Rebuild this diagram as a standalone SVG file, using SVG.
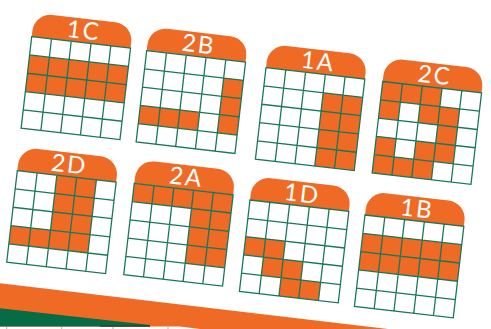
<svg xmlns="http://www.w3.org/2000/svg" xmlns:xlink="http://www.w3.org/1999/xlink" width="491" height="329" viewBox="0 0 491 329">
<style>
.tab{fill:#ef6a25}
.on{fill:#ef6a25}
.bg{fill:#ffffff}
.ln{fill:none;stroke:#17785a;stroke-width:1.3}
.lbl{font-family:Lato,"Open Sans","Liberation Sans",sans-serif;font-size:24px;fill:#ffffff;text-anchor:middle;letter-spacing:2px}
</style>
<defs>
<path id="tabshape" class="tab" d="M0,0 V-6 A18,18 0 0 1 18,-24 H81.5 A18,18 0 0 1 99.5,-6 V0 Z"/>
<rect id="bgrect" class="bg" x="0" y="0" width="99.5" height="92"/>
<path id="lines" class="ln" d="M0,0 H99.5 V92 H0 Z M19.9,0 V92 M39.8,0 V92 M59.7,0 V92 M79.6,0 V92 M0,18.4 H99.5 M0,36.8 H99.5 M0,55.2 H99.5 M0,73.6 H99.5"/>
</defs>
<rect width="491" height="329" fill="#ffffff"/>
<g id="bottom-band">
<polygon points="0,283.3 388,329 200,329 180,326.6 0,326.6" fill="#ef6a25"/>
<polygon points="0,308.3 150,325 150,326.6 0,326.6" fill="#076b45"/>
<line x1="100" y1="326.2" x2="150" y2="326.2" stroke="#222" stroke-width="0.8"/>
<g stroke="#999" stroke-width="0.8">
<line x1="6.7" y1="327" x2="6.7" y2="329"/>
<line x1="61.7" y1="327" x2="61.7" y2="329"/>
<line x1="113" y1="327" x2="113" y2="329"/>
<line x1="168" y1="327" x2="168" y2="329"/>
</g>
</g>
<g id="card-1C" transform="translate(31.7,36.7) rotate(6.6)">
<use xlink:href="#tabshape"/><text class="lbl" x="51" y="-4">1C</text>
<use xlink:href="#bgrect"/>
<rect class="on" x="0" y="18.4" width="99.5" height="36.8"/>
<use xlink:href="#lines"/>
</g>
<g id="card-2B" transform="translate(146.7,50.6) rotate(6.6)">
<use xlink:href="#tabshape"/><text class="lbl" x="51" y="-4">2B</text>
<use xlink:href="#bgrect"/>
<rect class="on" x="79.6" y="18.4" width="19.9" height="55.2"/>
<rect class="on" x="0" y="55.2" width="59.7" height="18.4"/>
<use xlink:href="#lines"/>
</g>
<g id="card-1A" transform="translate(266,67.7) rotate(6.6)">
<use xlink:href="#tabshape"/><text class="lbl" x="51" y="-4">1A</text>
<use xlink:href="#bgrect"/>
<rect class="on" x="59.7" y="18.4" width="39.8" height="73.6"/>
<use xlink:href="#lines"/>
</g>
<g id="card-2C" transform="translate(382.7,81.5) rotate(6.6)">
<use xlink:href="#tabshape"/><text class="lbl" x="51" y="-4">2C</text>
<use xlink:href="#bgrect"/>
<rect class="on" x="0" y="0" width="59.7" height="18.4"/>
<rect class="on" x="0" y="18.4" width="19.9" height="18.4"/>
<rect class="on" x="39.8" y="18.4" width="39.8" height="18.4"/>
<rect class="on" x="59.7" y="36.8" width="19.9" height="18.4"/>
<rect class="on" x="0" y="55.2" width="19.9" height="18.4"/>
<rect class="on" x="39.8" y="55.2" width="39.8" height="18.4"/>
<rect class="on" x="0" y="73.6" width="59.7" height="18.4"/>
<use xlink:href="#lines"/>
</g>
<g id="card-2D" transform="translate(17.3,170.7) rotate(6.6)">
<use xlink:href="#tabshape"/><text class="lbl" x="51" y="-4">2D</text>
<use xlink:href="#bgrect"/>
<rect class="on" x="39.8" y="0" width="39.8" height="55.2"/>
<rect class="on" x="0" y="55.2" width="79.6" height="18.4"/>
<use xlink:href="#lines"/>
</g>
<g id="card-2A" transform="translate(134.3,183.3) rotate(6.6)">
<use xlink:href="#tabshape"/><text class="lbl" x="51" y="-4">2A</text>
<use xlink:href="#bgrect"/>
<rect class="on" x="0" y="0" width="99.5" height="18.4"/>
<rect class="on" x="59.7" y="18.4" width="39.8" height="55.2"/>
<use xlink:href="#lines"/>
</g>
<g id="card-1D" transform="translate(250,200) rotate(6.6)">
<use xlink:href="#tabshape"/><text class="lbl" x="51" y="-4">1D</text>
<use xlink:href="#bgrect"/>
<rect class="on" x="0" y="36.8" width="39.8" height="18.4"/>
<rect class="on" x="19.9" y="55.2" width="39.8" height="18.4"/>
<rect class="on" x="39.8" y="73.6" width="39.8" height="18.4"/>
<use xlink:href="#lines"/>
</g>
<g id="card-1B" transform="translate(365,215) rotate(6.6)">
<use xlink:href="#tabshape"/><text class="lbl" x="51" y="-4">1B</text>
<use xlink:href="#bgrect"/>
<rect class="on" x="0" y="18.4" width="99.5" height="36.8"/>
<use xlink:href="#lines"/>
</g>
</svg>
